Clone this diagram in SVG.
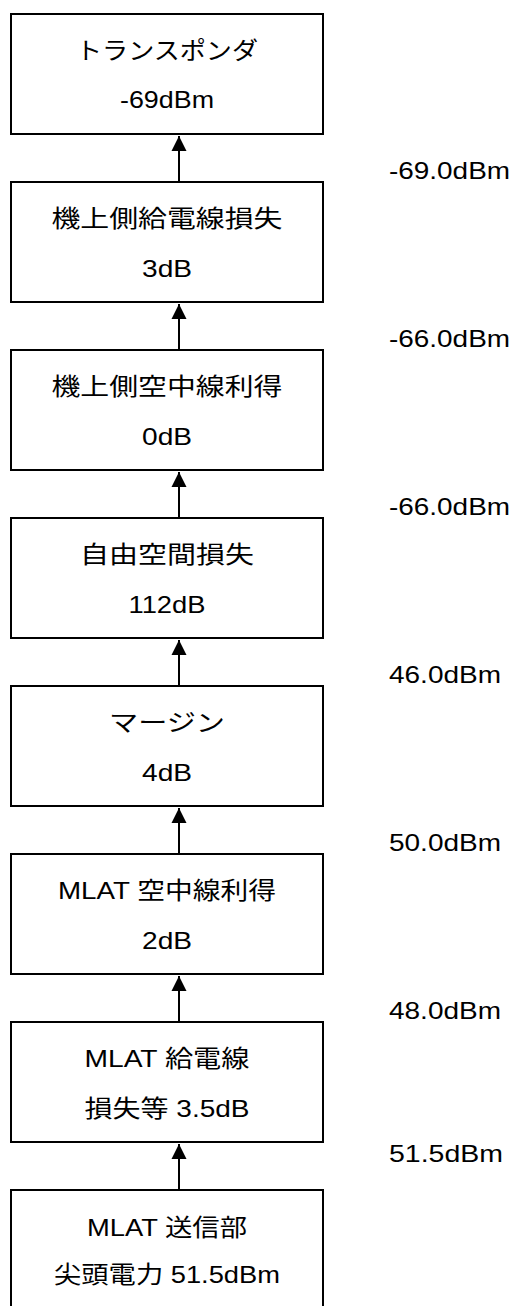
<svg xmlns="http://www.w3.org/2000/svg" width="515" height="1306" viewBox="0 0 515 1306">
<style>
.box{fill:#fff;stroke:#000;stroke-width:2}
.t{font-family:"Liberation Sans","Noto Sans CJK JP",Arial,sans-serif;font-size:24px;fill:#000;text-anchor:middle}
.r{font-family:"Liberation Sans",Arial,sans-serif;font-size:24px;fill:#000}
.c{stroke:#000;stroke-width:2;fill:none}
</style>
<defs>
<marker id="ah" viewBox="0 0 16 16" refX="15" refY="8" markerWidth="16" markerHeight="16" markerUnits="userSpaceOnUse" orient="auto">
<path d="M0,0.5 L15,8 L0,15.5 Z" fill="#000"/>
</marker>
</defs>
<rect width="515" height="1306" fill="#fff"/>
<g id="connectors">
<line class="c" x1="179" y1="182" x2="179" y2="136" marker-end="url(#ah)"/>
<line class="c" x1="179" y1="350" x2="179" y2="304" marker-end="url(#ah)"/>
<line class="c" x1="179" y1="518" x2="179" y2="472" marker-end="url(#ah)"/>
<line class="c" x1="179" y1="686" x2="179" y2="640" marker-end="url(#ah)"/>
<line class="c" x1="179" y1="854" x2="179" y2="808" marker-end="url(#ah)"/>
<line class="c" x1="179" y1="1022" x2="179" y2="976" marker-end="url(#ah)"/>
<line class="c" x1="179" y1="1190" x2="179" y2="1144" marker-end="url(#ah)"/>
</g>
<g id="n1"><rect class="box" x="11" y="14" width="312" height="120"/>
<text class="t" x="167" y="59" textLength="182" lengthAdjust="spacingAndGlyphs">トランスポンダ</text>
<text class="t" x="167" y="108" textLength="94" lengthAdjust="spacingAndGlyphs">-69dBm</text></g>
<g id="n2"><rect class="box" x="11" y="182" width="312" height="120"/>
<text class="t" x="167" y="227" textLength="231" lengthAdjust="spacingAndGlyphs">機上側給電線損失</text>
<text class="t" x="167" y="277" textLength="50" lengthAdjust="spacingAndGlyphs">3dB</text></g>
<g id="n3"><rect class="box" x="11" y="350" width="312" height="120"/>
<text class="t" x="167" y="395" textLength="231" lengthAdjust="spacingAndGlyphs">機上側空中線利得</text>
<text class="t" x="167" y="445" textLength="50" lengthAdjust="spacingAndGlyphs">0dB</text></g>
<g id="n4"><rect class="box" x="11" y="518" width="312" height="120"/>
<text class="t" x="167" y="563" textLength="174" lengthAdjust="spacingAndGlyphs">自由空間損失</text>
<text class="t" x="167" y="613" textLength="77" lengthAdjust="spacingAndGlyphs">112dB</text></g>
<g id="n5"><rect class="box" x="11" y="686" width="312" height="120"/>
<text class="t" x="167" y="731" textLength="116" lengthAdjust="spacingAndGlyphs">マージン</text>
<text class="t" x="167" y="781" textLength="50" lengthAdjust="spacingAndGlyphs">4dB</text></g>
<g id="n6"><rect class="box" x="11" y="854" width="312" height="120"/>
<text class="t" x="167" y="899" textLength="218" lengthAdjust="spacingAndGlyphs">MLAT 空中線利得</text>
<text class="t" x="167" y="949" textLength="50" lengthAdjust="spacingAndGlyphs">2dB</text></g>
<g id="n7"><rect class="box" x="11" y="1022" width="312" height="120"/>
<text class="t" x="167" y="1067" textLength="165" lengthAdjust="spacingAndGlyphs">MLAT 給電線</text>
<text class="t" x="167" y="1117" textLength="165" lengthAdjust="spacingAndGlyphs">損失等 3.5dB</text></g>
<g id="n8"><rect class="box" x="11" y="1190" width="312" height="140"/>
<text class="t" x="167" y="1236" textLength="160" lengthAdjust="spacingAndGlyphs">MLAT 送信部</text>
<text class="t" x="167" y="1283" textLength="226" lengthAdjust="spacingAndGlyphs">尖頭電力 51.5dBm</text></g>
<g id="levels">
<text class="r" x="389" y="179" textLength="121" lengthAdjust="spacingAndGlyphs">-69.0dBm</text>
<text class="r" x="389" y="347" textLength="121" lengthAdjust="spacingAndGlyphs">-66.0dBm</text>
<text class="r" x="389" y="515" textLength="121" lengthAdjust="spacingAndGlyphs">-66.0dBm</text>
<text class="r" x="389" y="683" textLength="112" lengthAdjust="spacingAndGlyphs">46.0dBm</text>
<text class="r" x="389" y="851" textLength="112" lengthAdjust="spacingAndGlyphs">50.0dBm</text>
<text class="r" x="389" y="1019" textLength="112" lengthAdjust="spacingAndGlyphs">48.0dBm</text>
<text class="r" x="389" y="1162" textLength="114" lengthAdjust="spacingAndGlyphs">51.5dBm</text>
</g>
</svg>
